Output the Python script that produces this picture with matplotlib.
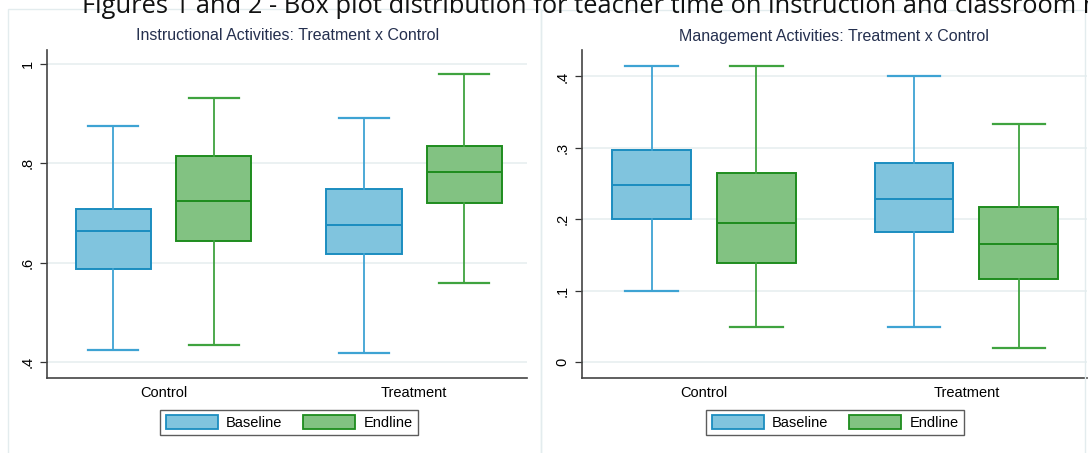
import matplotlib.pyplot as plt
from matplotlib.patches import Rectangle, Patch

W, H = 1088, 453
DPI = 100

groups = ['Control', 'Treatment']
series = ['Baseline', 'Endline']

# five-number summaries per group: [whisker low, q1, median, q3, whisker high]
instr_baseline = [[0.424, 0.588, 0.663, 0.708, 0.875],
                  [0.418, 0.617, 0.675, 0.749, 0.891]]
instr_endline = [[0.434, 0.643, 0.724, 0.814, 0.932],
                 [0.560, 0.721, 0.783, 0.834, 0.979]]

mgmt_baseline = [[0.100, 0.200, 0.248, 0.297, 0.415],
                 [0.050, 0.183, 0.228, 0.279, 0.400]]
mgmt_endline = [[0.050, 0.139, 0.195, 0.265, 0.415],
                [0.020, 0.117, 0.166, 0.217, 0.333]]

instr_ticks = [0.4, 0.6, 0.8, 1.0]
instr_ticklabels = ['.4', '.6', '.8', '1']
mgmt_ticks = [0.0, 0.1, 0.2, 0.3, 0.4]
mgmt_ticklabels = ['0', '.1', '.2', '.3', '.4']

caption = 'Figures 1 and 2 - Box plot distribution for teacher time on instruction and classroom management'

blue_fill, blue_edge, blue_line = '#80c4de', '#1b8dc0', '#3ea3d3'
green_fill, green_edge, green_line = '#82c282', '#1e8c1e', '#3fa33f'
grid_col = '#e6eeef'
title_col = '#25304f'

plt.rcParams['font.family'] = ['Liberation Sans', 'DejaVu Sans']

fig = plt.figure(figsize=(W / DPI, H / DPI), dpi=DPI)


def px_axes(x0, x1, ytop, ybot):
    return fig.add_axes([x0 / W, 1 - ybot / H, (x1 - x0) / W, (ybot - ytop) / H])


def to_stats(rows):
    return [dict(whislo=r[0], q1=r[1], med=r[2], q3=r[3], whishi=r[4]) for r in rows]


def draw_panel(ax, base, end, ticks, ticklabels, ylim, xlim):
    for rows, off, fill, edge, line in [(base, -0.2, blue_fill, blue_edge, blue_line),
                                        (end, 0.2, green_fill, green_edge, green_line)]:
        ax.bxp(to_stats(rows), positions=[1 + off, 2 + off], widths=0.3,
               capwidths=0.2, showfliers=False, patch_artist=True,
               boxprops=dict(facecolor=fill, edgecolor=edge, linewidth=1.4),
               medianprops=dict(color=edge, linewidth=1.4),
               whiskerprops=dict(color=line, linewidth=1.3),
               capprops=dict(color=line, linewidth=1.6), zorder=3)
    ax.set_xlim(*xlim)
    ax.set_ylim(*ylim)
    ax.set_yticks(ticks)
    ax.set_yticklabels(ticklabels, rotation=90, va='center')
    ax.set_xticks([1, 2])
    ax.set_xticklabels(groups)
    ax.tick_params(axis='x', length=0, pad=6, labelsize=10.5)
    ax.tick_params(axis='y', length=5, width=0.9, pad=4, labelsize=10.5, color='#333333')
    ax.grid(axis='y', color=grid_col, linewidth=1.1, zorder=0)
    ax.set_axisbelow(True)
    for side in ['top', 'right']:
        ax.spines[side].set_visible(False)
    for side in ['left', 'bottom']:
        ax.spines[side].set_color('#444444')
        ax.spines[side].set_linewidth(1.2)


# panel outlines
fig.patches.append(Rectangle((8 / W, -0.1), 533 / W, 1.1 - 9.5 / H, transform=fig.transFigure,
                             fill=False, edgecolor='#e3ecee', linewidth=1))
fig.patches.append(Rectangle((541 / W, -0.1), 0.5, 1.1 - 10 / H, transform=fig.transFigure,
                             fill=False, edgecolor='#e3ecee', linewidth=1))

ax1 = px_axes(47, 527, 50, 378)
draw_panel(ax1, instr_baseline, instr_endline, instr_ticks, instr_ticklabels,
           (0.368, 1.028), (0.535, 2.45))
ax2 = px_axes(582, 1087, 50, 378)
draw_panel(ax2, mgmt_baseline, mgmt_endline, mgmt_ticks, mgmt_ticklabels,
           (-0.022, 0.437), (0.535, 2.46))

fig.text(288 / W, 1 - 36 / H, 'Instructional Activities: Treatment x Control',
         ha='center', va='center', fontsize=11.5, color=title_col)
fig.text(834 / W, 1 - 37 / H, 'Management Activities: Treatment x Control',
         ha='center', va='center', fontsize=11.5, color=title_col)

# figure caption sits above the panels, partly outside the canvas
fig.text(82 / W, 1 - 13 / H, caption, ha='left', va='baseline',
         fontsize=18.4, family=['Open Sans', 'DejaVu Sans'], color='#111111')

handles = [Patch(facecolor=blue_fill, edgecolor=blue_edge, linewidth=1.3),
           Patch(facecolor=green_fill, edgecolor=green_edge, linewidth=1.3)]
for cx in [289, 835]:
    leg = fig.legend(handles, series, loc='center', ncol=2,
                     bbox_to_anchor=(cx / W, 1 - 422.5 / H), fontsize=10.5,
                     handlelength=3.6, handleheight=1.15, handletextpad=0.55,
                     columnspacing=1.4, borderpad=0.35, frameon=True, fancybox=False)
    leg.get_frame().set_edgecolor('#333333')
    leg.get_frame().set_linewidth(1.0)

fig.savefig('out.png', dpi=DPI, facecolor='white')
